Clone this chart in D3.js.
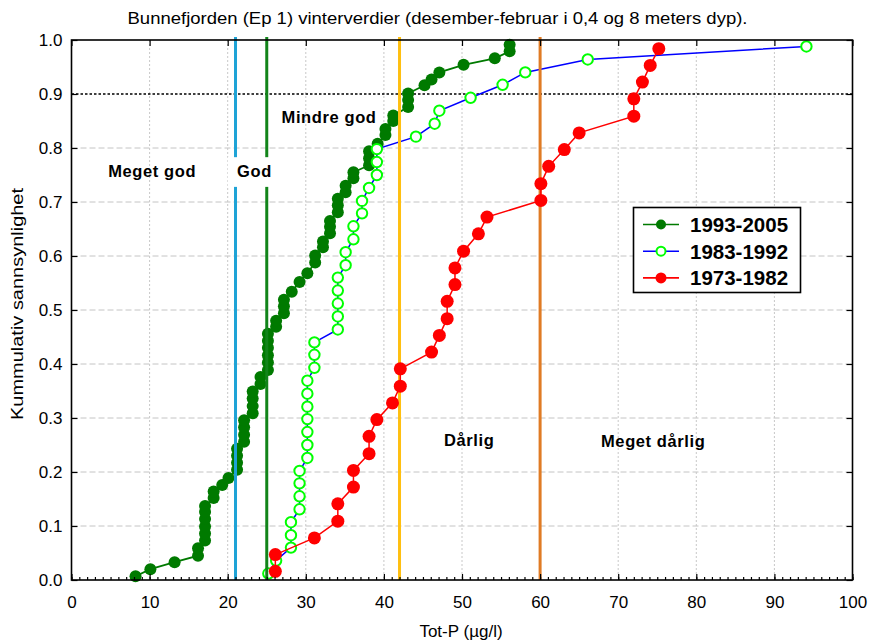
<!DOCTYPE html>
<html>
<head>
<meta charset="utf-8">
<script src="https://cdn.jsdelivr.net/npm/d3@7/dist/d3.min.js"></script>
<style>
  html, body { margin: 0; padding: 0; background: #fff; }
  svg { display: block; font-family: "Liberation Sans", Arial, sans-serif; }
</style>
</head>
<body>
<svg id="chart" width="870" height="640"></svg>
<script>
// ---------------- DATA ----------------
const xTicks = [0, 10, 20, 30, 40, 50, 60, 70, 80, 90, 100];
const yTicks = [0, 0.1, 0.2, 0.3, 0.4, 0.5, 0.6, 0.7, 0.8, 0.9, 1.0];

const seriesNames = ["1993-2005", "1983-1992", "1973-1982"];

// 1993-2005 (Tot-P, cumulative probability)
const totP1993 = [8.2, 10.1, 13.2, 16.2, 16.2, 17.1, 17.1, 17.1, 17.1, 17.1, 17.1, 18.2, 18.2, 19.3, 20.1,
  21.2, 21.2, 21.2, 21.2, 22.1, 22.1, 22.1, 22.1, 23.2, 23.2, 23.2, 23.2, 24.2, 24.2,
  25.15, 25.15, 25.15, 25.15, 25.15, 25.15, 26.2, 26.2, 27.2, 27.2, 27.2, 28.2, 29.2, 30.2,
  31.2, 31.2, 32.2, 32.2, 33.1, 33.1, 33.1, 34.1, 34.1, 34.1, 35.1, 35.1, 36.1, 36.1,
  38.1, 38.1, 38.1, 39.2, 40.2, 40.2, 41.2, 41.2, 43.1, 43.1, 43.1, 45.2, 46.1, 47.1,
  50.2, 54.2, 56.1, 56.1];
const prob1993 = [0.007, 0.020, 0.033, 0.045, 0.059, 0.073, 0.086, 0.099, 0.113, 0.126, 0.137, 0.152, 0.164, 0.176, 0.189,
  0.204, 0.217, 0.230, 0.243, 0.256, 0.269, 0.283, 0.296, 0.309, 0.322, 0.336, 0.349, 0.363, 0.376,
  0.389, 0.403, 0.416, 0.430, 0.443, 0.456, 0.469, 0.480, 0.494, 0.507, 0.519, 0.534, 0.552, 0.568,
  0.588, 0.601, 0.616, 0.627, 0.642, 0.654, 0.665, 0.681, 0.694, 0.706, 0.718, 0.730, 0.744, 0.755,
  0.768, 0.781, 0.794, 0.808, 0.824, 0.835, 0.850, 0.860, 0.876, 0.889, 0.901, 0.916, 0.927, 0.940,
  0.954, 0.966, 0.979, 0.991];

// 1983-1992
const totP1983 = [25.2, 26.2, 28.1, 28.1, 28.1, 29.2, 29.2, 29.2, 29.2, 30.2, 30.2, 30.2, 30.2, 30.2, 30.2, 30.2,
  31.1, 31.1, 31.1, 34.1, 34.1, 34.1, 34.1, 34.1, 35.1, 35.1, 36.1, 36.1, 37.2, 37.2, 38.1,
  39.1, 39.1, 39.1, 44.1, 46.5, 47.1, 51.1, 55.2, 58.1, 66.1, 94.1];
const prob1983 = [0.012, 0.036, 0.060, 0.083, 0.107, 0.131, 0.155, 0.179, 0.202, 0.226, 0.250, 0.274, 0.298, 0.321, 0.345, 0.369,
  0.393, 0.417, 0.440, 0.464, 0.488, 0.512, 0.536, 0.560, 0.583, 0.607, 0.631, 0.655, 0.679, 0.702, 0.726,
  0.750, 0.774, 0.798, 0.821, 0.845, 0.869, 0.893, 0.917, 0.940, 0.964, 0.988];

// 1973-1982
const totP1973 = [26.1, 26.1, 31.1, 34.1, 34.1, 36.1, 36.1, 38.1, 38.1, 39.1, 41.1, 42.1, 42.1, 46.1, 47.1, 48.1,
  48.1, 49.1, 49.1, 50.2, 52.1, 53.2, 60.1, 60.1, 61.1, 63.1, 65.0, 72.0, 72.0, 73.1, 74.1, 75.2];
const prob1973 = [0.016, 0.047, 0.078, 0.109, 0.141, 0.172, 0.203, 0.234, 0.266, 0.297, 0.328, 0.359, 0.391, 0.422, 0.453, 0.484,
  0.516, 0.547, 0.578, 0.609, 0.641, 0.672, 0.703, 0.734, 0.766, 0.797, 0.828, 0.859, 0.891, 0.922, 0.953, 0.984];

// class limits (Tot-P) and class names
const classLimits = [21, 25, 42, 60];
const classNames = ["Meget god", "God", "Mindre god", "Dårlig", "Meget dårlig"];
const referenceProb = 0.9;

// ---------------- CHART ----------------
(function () {
const svg = d3.select("#chart");
const pL = 71.5, pR = 852.5, pT = 40, pB = 580;
const x = d3.scaleLinear().domain([0, 100]).range([pL, pR]);
const y = d3.scaleLinear().domain([0, 1]).range([pB, pT]);

const cDark = "#007a00", cLime = "#00ff00", cBlue = "#0000ff", cRed = "#ff0000";
const limitColors = ["#1ea3d6", "#12841a", "#ffbf10", "#e07b24"];

// title
svg.append("text")
  .attr("x", 437.5).attr("y", 24)
  .attr("text-anchor", "middle")
  .attr("font-size", 17)
  .attr("textLength", 620).attr("lengthAdjust", "spacingAndGlyphs")
  .text("Bunnefjorden (Ep 1) vinterverdier (desember-februar i 0,4 og 8 meters dyp).");

// grid
const grid = svg.append("g");
grid.selectAll("line.h").data(yTicks.filter(v => v > 0 && v < 1 && Math.abs(v - referenceProb) > 1e-9))
  .join("line")
  .attr("x1", pL).attr("x2", pR)
  .attr("y1", d => y(d)).attr("y2", d => y(d))
  .attr("stroke", "#c4c4c4").attr("stroke-width", 1).attr("stroke-dasharray", "6,3");
grid.selectAll("line.v").data(xTicks.filter(v => v > 0 && v < 100))
  .join("line")
  .attr("y1", pT).attr("y2", pB)
  .attr("x1", d => x(d)).attr("x2", d => x(d))
  .attr("stroke", "#c8c8c8").attr("stroke-width", 1).attr("stroke-dasharray", "2,2");

svg.append("line")
  .attr("x1", pL).attr("x2", pR)
  .attr("y1", y(referenceProb)).attr("y2", y(referenceProb))
  .attr("stroke", "#000").attr("stroke-width", 1.5).attr("stroke-dasharray", "2.5,2");

const line = d3.line().x(d => x(d[0])).y(d => y(d[1]));

function drawSeries(xs, ps, lineColor, width) {
  const pts = xs.map((v, i) => [v, ps[i]]);
  svg.append("path").datum(pts)
    .attr("d", line).attr("fill", "none")
    .attr("stroke", lineColor).attr("stroke-width", width);
  return pts;
}

// 1993-2005
const g1 = drawSeries(totP1993, prob1993, cDark, 1.8);
svg.append("g").selectAll("circle").data(g1).join("circle")
  .attr("cx", d => x(d[0])).attr("cy", d => y(d[1])).attr("r", 6)
  .attr("fill", cDark);

// 1983-1992
const g2 = drawSeries(totP1983, prob1983, cBlue, 1.5);
svg.append("g").selectAll("circle").data(g2).join("circle")
  .attr("cx", d => x(d[0])).attr("cy", d => y(d[1])).attr("r", 5.2)
  .attr("fill", "#fff").attr("stroke", cLime).attr("stroke-width", 2);

// class limit lines
svg.append("g").selectAll("line").data(classLimits).join("line")
  .attr("x1", d => x(d)).attr("x2", d => x(d))
  .attr("y1", pT - 3).attr("y2", pB)
  .attr("stroke", (d, i) => limitColors[i]).attr("stroke-width", 3);

// 1973-1982
const g3 = drawSeries(totP1973, prob1973, cRed, 1.5);
svg.append("g").selectAll("circle").data(g3).join("circle")
  .attr("cx", d => x(d[0])).attr("cy", d => y(d[1])).attr("r", 6.5)
  .attr("fill", cRed);

// class labels
svg.append("rect")
  .attr("x", x(20.0)).attr("y", y(0.783))
  .attr("width", x(26.2) - x(20.0)).attr("height", y(0.728) - y(0.783))
  .attr("fill", "#fff");
const labelPos = [[4.7, 0.746], [21.2, 0.746], [26.9, 0.846], [47.7, 0.248], [67.8, 0.246]];
svg.append("g").selectAll("text").data(classNames).join("text")
  .attr("x", (d, i) => x(labelPos[i][0]))
  .attr("y", (d, i) => y(labelPos[i][1]))
  .attr("font-size", 16.5).attr("font-weight", "bold").attr("letter-spacing", 0.6)
  .text(d => d);

// axes
const fontSize = 17;
const xAxis = svg.append("g").attr("transform", `translate(0,${pB})`)
  .call(d3.axisBottom(x).tickValues(xTicks).tickSize(-6).tickPadding(16).tickFormat(d3.format("d")));
xAxis.select(".domain").remove();
xAxis.selectAll("text").attr("font-size", fontSize).attr("fill", "#000");

const xMinor = svg.append("g").attr("transform", `translate(0,${pB})`)
  .call(d3.axisBottom(x).tickValues(d3.range(0, 101, 1)).tickSize(-3).tickFormat(""));
xMinor.select(".domain").remove();

const xTop = svg.append("g").attr("transform", `translate(0,${pT})`)
  .call(d3.axisTop(x).tickValues(xTicks).tickSize(-6).tickFormat(""));
xTop.select(".domain").remove();

const yAxis = svg.append("g").attr("transform", `translate(${pL},0)`)
  .call(d3.axisLeft(y).tickValues(yTicks).tickSize(-6).tickPadding(9).tickFormat(d3.format(".1f")));
yAxis.select(".domain").remove();
yAxis.selectAll("text").attr("font-size", fontSize).attr("fill", "#000");

const yRight = svg.append("g").attr("transform", `translate(${pR},0)`)
  .call(d3.axisRight(y).tickValues(yTicks).tickSize(-6).tickFormat(""));
yRight.select(".domain").remove();

svg.selectAll(".tick line").attr("stroke", "#000").attr("stroke-width", 1.2);

// frame
svg.append("rect")
  .attr("x", pL).attr("y", pT)
  .attr("width", pR - pL).attr("height", pB - pT)
  .attr("fill", "none").attr("stroke", "#000").attr("stroke-width", 1.6);

// axis titles
svg.append("text")
  .attr("x", 461).attr("y", 637)
  .attr("text-anchor", "middle").attr("font-size", 17)
  .text("Tot-P (µg/l)");
svg.append("text")
  .attr("transform", "translate(23,304) rotate(-90)")
  .attr("text-anchor", "middle").attr("font-size", 17)
  .attr("textLength", 232).attr("lengthAdjust", "spacingAndGlyphs")
  .text("Kummulativ sannsynlighet");

// legend
const lg = svg.append("g");
lg.append("rect")
  .attr("x", 633.5).attr("y", 207.5).attr("width", 167).attr("height", 85)
  .attr("fill", "#fff").attr("stroke", "#000").attr("stroke-width", 1.6);
const legendRows = [
  { line: cDark, fill: cDark, stroke: "none", r: 5 },
  { line: cBlue, fill: "#fff", stroke: cLime, r: 4.5 },
  { line: cRed, fill: cRed, stroke: "none", r: 5.5 }
];
legendRows.forEach((s, i) => {
  const cy = 224.5 + i * 26.7;
  lg.append("line").attr("x1", 643).attr("x2", 679).attr("y1", cy).attr("y2", cy)
    .attr("stroke", s.line).attr("stroke-width", 1.6);
  lg.append("circle").attr("cx", 661).attr("cy", cy).attr("r", s.r)
    .attr("fill", s.fill).attr("stroke", s.stroke).attr("stroke-width", 2);
  lg.append("text").attr("x", 690).attr("y", cy + 7.5)
    .attr("font-size", 20.5).attr("font-weight", "bold")
    .text(seriesNames[i]);
});
})();
</script>
</body>
</html>
